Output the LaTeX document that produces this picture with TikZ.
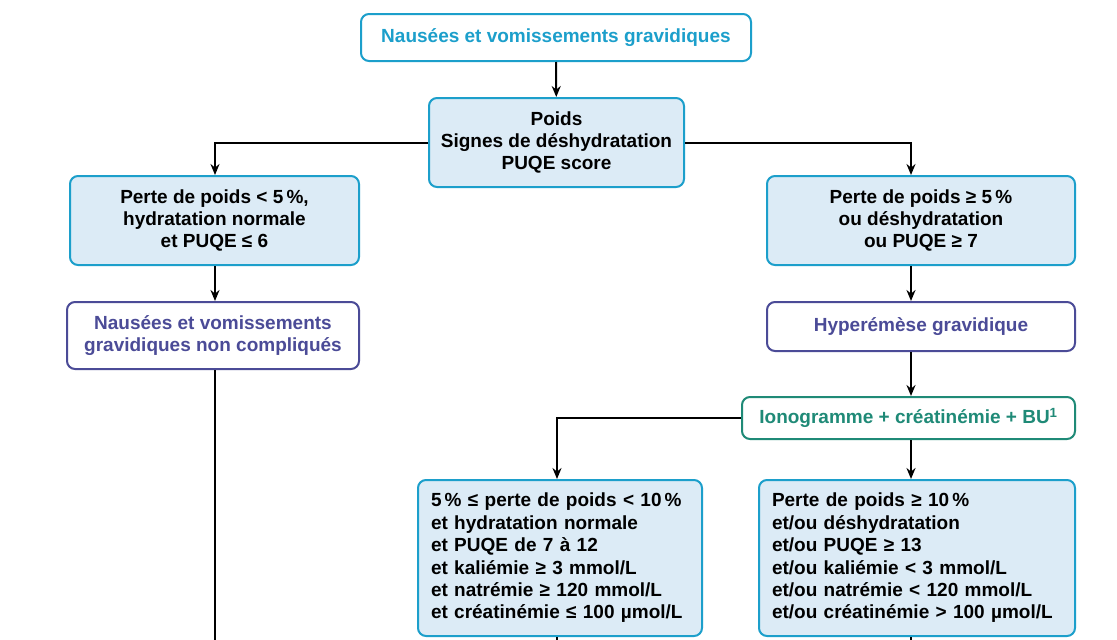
\documentclass[tikz,border=0pt]{standalone}
\usepackage{fontspec}
\setmainfont{Liberation Sans}
\usetikzlibrary{arrows.meta,calc}
\definecolor{cyanb}{HTML}{1C9FCB}
\definecolor{fillb}{HTML}{DCEBF6}
\definecolor{purp}{HTML}{4B4B97}
\definecolor{grn}{HTML}{1F8A77}
\tikzset{
  box/.style={draw, rounded corners=8pt, line width=2pt, inner sep=0pt, align=center, font=\bfseries\fontsize{19}{22}\selectfont},
  bluebox/.style={box, draw=cyanb, fill=fillb, text=black},
  titlebox/.style={box, draw=cyanb, fill=white, text=cyanb},
  purpbox/.style={box, draw=purp, fill=white, text=purp},
  grnbox/.style={box, draw=grn, fill=white, text=grn},
  leftbox/.style={bluebox, align=left, text width=#1, font=\bfseries\fontsize{19}{22.4}\selectfont},
  arr/.style={draw=black, line width=2pt, -{Stealth[length=11pt,width=9pt]}},
  ln/.style={draw=black, line width=2pt}
}
\begin{document}
\begin{tikzpicture}[x=1pt,y=-1pt]
\useasboundingbox[fill=white] (0,0) rectangle (1117,640);
\node[titlebox, minimum width=390pt, minimum height=47pt] (top) at (556,37.5) {Nausées et vomissements gravidiques};
\node[bluebox, minimum width=255pt, minimum height=89pt] (poids) at (556.5,142.5) {Poids\\Signes de déshydratation\\PUQE score};
\node[bluebox, minimum width=289pt, minimum height=89pt] (l1) at (214.5,220.5) {Perte de poids < 5\,\%,\\hydratation normale\\et PUQE ≤ 6};
\node[purpbox, minimum width=292pt, minimum height=67pt] (l2) at (213,335.5) {Nausées et vomissements\\gravidiques non compliqués};
\node[bluebox, minimum width=308pt, minimum height=89pt] (r1) at (921,220.5) {Perte de poids ≥ 5\,\%\\ou déshydratation\\ou PUQE ≥ 7};
\node[purpbox, minimum width=308pt, minimum height=49pt] (r2) at (921,326.5) {Hyperémèse gravidique};
\node[grnbox, minimum width=333pt, minimum height=42pt] (iono) at (908.5,418) {Ionogramme + créatinémie + BU\textsuperscript{1}};
\node[leftbox=258pt, minimum width=284pt, minimum height=156pt] (b1) at (560,558) {5\,\% ≤ perte de poids < 10\,\%\\et hydratation normale\\et PUQE de 7 à 12\\et kaliémie ≥ 3 mmol/L\\et natrémie ≥ 120 mmol/L\\et créatinémie ≤ 100 µmol/L};
\node[leftbox=290pt, minimum width=316pt, minimum height=156pt] (b2) at (917,558) {Perte de poids ≥ 10\,\%\\et/ou déshydratation\\et/ou PUQE ≥ 13\\et/ou kaliémie < 3 mmol/L\\et/ou natrémie < 120 mmol/L\\et/ou créatinémie > 100 µmol/L};
\coordinate (xl) at (215,0);
\coordinate (xr) at (911,0);
\coordinate (xm) at (557,0);
\coordinate (endl) at (215,641);
\coordinate (endm) at (557,641);
\coordinate (endr) at (911,641);
\draw[arr] (top) -- (poids);
\draw[arr] (poids.west) -| (l1.north -| xl);
\draw[arr] (poids.east) -| (r1.north -| xr);
\draw[arr] (l1.south -| xl) -- (l2.north -| xl);
\draw[arr] (r1.south -| xr) -- (r2.north -| xr);
\draw[arr] (r2.south -| xr) -- (iono.north -| xr);
\draw[arr] (iono.west) -| (b1.north -| xm);
\draw[arr] (iono.south -| xr) -- (b2.north -| xr);
\draw[ln] (l2.south -| xl) -- (endl);
\draw[ln] (b1.south -| xm) -- (endm);
\draw[ln] (b2.south -| xr) -- (endr);
\end{tikzpicture}
\end{document}
